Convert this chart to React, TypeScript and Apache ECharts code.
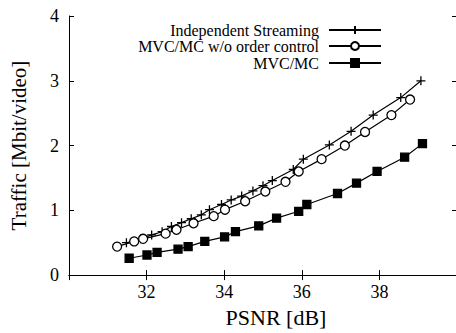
import React, { useEffect, useRef } from "react";
import * as echarts from "echarts";

const xTicks = [30, 32, 34, 36, 38, 40];
const yTicks = [0, 1, 2, 3, 4];

const seriesNames = ["Independent Streaming", "MVC/MC w/o order control", "MVC/MC"];

const indepX = [31.48, 31.85, 32.13, 32.4, 32.64, 32.9, 33.15, 33.41, 33.62, 33.93, 34.18, 34.45, 34.74, 35.0, 35.24, 35.78, 36.04, 36.71, 37.27, 37.84, 38.55, 39.07];
const indepY = [0.5, 0.56, 0.62, 0.67, 0.75, 0.81, 0.87, 0.93, 1.01, 1.09, 1.16, 1.22, 1.3, 1.38, 1.46, 1.63, 1.79, 2.01, 2.22, 2.47, 2.74, 3.0];

const noOrderX = [31.24, 31.68, 31.91, 32.49, 32.77, 33.21, 33.73, 34.02, 34.54, 35.06, 35.58, 35.92, 36.51, 37.11, 37.63, 38.31, 38.79];
const noOrderY = [0.44, 0.52, 0.56, 0.64, 0.7, 0.8, 0.91, 1.01, 1.14, 1.29, 1.44, 1.6, 1.79, 2.0, 2.21, 2.47, 2.71];

const mvcX = [31.55, 32.01, 32.27, 32.81, 33.07, 33.5, 34.01, 34.29, 34.89, 35.35, 35.92, 36.13, 36.92, 37.41, 37.94, 38.65, 39.11];
const mvcY = [0.26, 0.31, 0.35, 0.4, 0.44, 0.52, 0.59, 0.67, 0.76, 0.88, 0.985, 1.09, 1.26, 1.42, 1.6, 1.82, 2.03];

const zip = (xs: number[], ys: number[]) => xs.map((x, i) => [x, ys[i]]);

const FONT = "Liberation Serif";

export default function App() {
  const ref = useRef<HTMLDivElement>(null);
  useEffect(() => {
    if (!ref.current) return;
    const chart = echarts.init(ref.current, undefined, { renderer: "svg" });
    const axisLine = { show: true, lineStyle: { color: "#000", width: 1 } };
    const tick = { show: true, inside: true, length: 5, lineStyle: { color: "#000", width: 1 } };
    const xMin = xTicks[0], xMax = xTicks[xTicks.length - 1];
    const yMin = yTicks[0], yMax = yTicks[yTicks.length - 1];
    const lineSeries = (name: string, data: number[][], symbol: string, size: number, fill: string) => ({
      type: "line",
      name,
      data,
      symbol,
      symbolSize: size,
      showAllSymbol: true,
      color: "#000",
      lineStyle: { color: "#000", width: 1.2 },
      itemStyle: { color: fill, borderColor: "#000", borderWidth: 1.3 },
      emphasis: { disabled: true },
    });
    const legendTops = [25, 41, 58];
    chart.setOption({
      animation: false,
      textStyle: { fontFamily: FONT, color: "#000" },
      grid: { left: 69, top: 16, right: 3, bottom: 53 },
      legend: seriesNames.map((n, i) => ({
        data: [n],
        right: 78,
        top: legendTops[i],
        orient: "horizontal",
        align: "right",
        itemWidth: 52,
        itemHeight: 10,
        padding: 0,
        selectedMode: false,
        formatter: () => "",
        textStyle: { fontSize: 1 },
      })),
      graphic: seriesNames.map((n, i) => ({
        type: "text",
        x: 319,
        y: legendTops[i] + 5,
        silent: true,
        style: {
          text: n,
          fontFamily: FONT,
          fontSize: 16,
          lineHeight: 15,
          fill: "#000",
          align: "right",
          verticalAlign: "middle",
        },
      })),
      xAxis: [
        {
          type: "value",
          min: xMin,
          max: xMax,
          interval: 2,
          name: "PSNR [dB]",
          nameLocation: "middle",
          nameGap: 19,
          nameTextStyle: { fontFamily: FONT, fontSize: 22, color: "#000", padding: [0, 0, 0, 26] },
          axisLine,
          axisTick: tick,
          splitLine: { show: false },
          axisLabel: {
            fontFamily: FONT,
            fontSize: 18,
            color: "#000",
            margin: 8,
            formatter: (v: number) => (v === xMin || v === xMax ? "" : String(v)),
          },
        },
        {
          type: "value",
          position: "top",
          min: xMin,
          max: xMax,
          interval: 2,
          axisLine,
          axisTick: tick,
          splitLine: { show: false },
          axisLabel: { show: false },
        },
      ],
      yAxis: [
        {
          type: "value",
          min: yMin,
          max: yMax,
          interval: 1,
          name: "Traffic [Mbit/video]",
          nameLocation: "middle",
          nameGap: 40,
          nameRotate: 90,
          nameTextStyle: { fontFamily: FONT, fontSize: 21, color: "#000" },
          axisLine,
          axisTick: tick,
          splitLine: { show: false },
          axisLabel: { fontFamily: FONT, fontSize: 18, color: "#000", margin: 10 },
        },
        {
          type: "value",
          position: "right",
          min: yMin,
          max: yMax,
          interval: 1,
          axisLine,
          axisTick: tick,
          splitLine: { show: false },
          axisLabel: { show: false },
        },
      ],
      series: [
        lineSeries(seriesNames[0], zip(indepX, indepY), "path://M0,5L10,5M5,0L5,10", 9, "#000"),
        lineSeries(seriesNames[1], zip(noOrderX, noOrderY), "circle", 9, "#fff"),
        lineSeries(seriesNames[2], zip(mvcX, mvcY), "rect", 8, "#000"),
      ],
    });
    return () => chart.dispose();
  }, []);
  return (
    <div
      ref={ref}
      style={{ position: "fixed", left: 0, top: 0, width: 460, height: 333, background: "#fff" }}
    />
  );
}
